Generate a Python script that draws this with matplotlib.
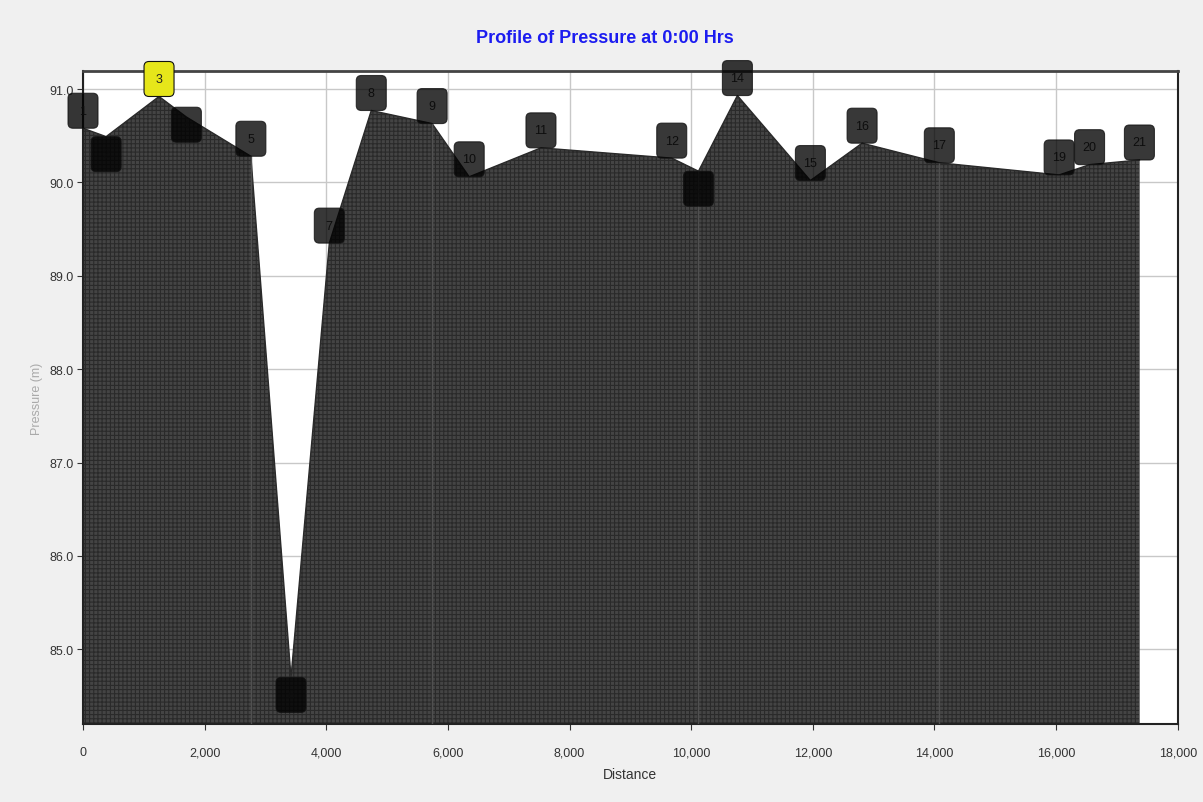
import matplotlib
matplotlib.use("Agg")
import matplotlib.pyplot as plt
from matplotlib.patches import FancyBboxPatch
from matplotlib.transforms import ScaledTranslation
from matplotlib.ticker import FuncFormatter

# ---- data ----
node_labels = ['1', '2', '3', '4', '5', '6', '7', '8', '9', '10', '11', '12', '13',
               '14', '15', '16', '17', '19', '20', '21']
distance = [0, 380, 1250, 1700, 2760, 3420, 4050, 4740, 5740, 6350, 7530, 9680,
            10120, 10760, 11960, 12810, 14080, 16050, 16550, 17370]
pressure = [90.58, 90.49, 90.92, 90.70, 90.28, 84.70, 89.35, 90.77, 90.63, 90.06,
            90.37, 90.26, 90.12, 90.93, 90.02, 90.42, 90.21, 90.08, 90.19, 90.24]
x_ticks = [0, 2000, 4000, 6000, 8000, 10000, 12000, 14000, 16000, 18000]
y_ticks = [85.0, 86.0, 87.0, 88.0, 89.0, 90.0, 91.0]
seam_nodes = ['5', '9', '13', '17']
highlight_node = '3'

# ---- style ----
label_place = {'2': 'below', '6': 'below', '13': 'below', '4': 'center'}
plt.rcParams['font.family'] = ['Liberation Sans Narrow', 'Liberation Sans', 'DejaVu Sans']
plt.rcParams['hatch.linewidth'] = 0.8

fig = plt.figure(figsize=(12.03, 8.03), dpi=100, facecolor='#f0f0f0')
ax = fig.add_axes([0.069, 0.097, 0.910, 0.813])
ax.set_facecolor('white')

ax.set_xlim(0, 18000)
ax.set_ylim(84.2, 91.19)

ax.set_xticks(x_ticks)
ax.set_yticks(y_ticks)
ax.xaxis.set_major_formatter(FuncFormatter(lambda v, p: f"{int(v):,}"))
ax.yaxis.set_major_formatter(FuncFormatter(lambda v, p: f"{v:.1f}"))
ax.tick_params(axis='both', labelsize=9, colors='#333333', length=4, width=0.8,
               direction='out')
ax.tick_params(axis='x', pad=12)
ax.tick_params(axis='y', pad=3)
ax.grid(True, color='#c8c8c8', linewidth=1.0, zorder=0)
ax.set_axisbelow(True)

for side, sp in ax.spines.items():
    sp.set_color('#222222')
    sp.set_linewidth(1.5)
ax.spines['top'].set_linewidth(2.0)
ax.spines['top'].set_color('#444444')

# filled profile
base = 84.2
ax.fill_between(distance, pressure, base, facecolor='#444444', edgecolor='#2a2a2a',
                hatch='++++', linewidth=0, zorder=2)
ax.plot(distance, pressure, color='#2a2a2a', linewidth=1.0, zorder=3)

# faint seams at pipe boundaries
for lab in seam_nodes:
    i = node_labels.index(lab)
    ax.plot([distance[i], distance[i]], [base, pressure[i]], color='#505050',
            linewidth=1.0, zorder=3)

# node label boxes
bw, bh = 0.30, 0.35  # inches
for lab, d, p in zip(node_labels, distance, pressure):
    place = label_place.get(lab, 'above')
    if place == 'above':
        y0 = 0.0
    elif place == 'below':
        y0 = -bh
    else:
        y0 = -bh * 0.72
    trans = fig.dpi_scale_trans + ScaledTranslation(d, p, ax.transData)
    if lab == highlight_node:
        fc, alpha, tc = '#e6e61a', 1.0, '#222222'
    else:
        fc, alpha, tc = '#000000', 0.78, '#0d0d0d'
    box = FancyBboxPatch((-bw / 2, y0), bw, bh,
                         boxstyle='round,pad=0,rounding_size=0.05',
                         transform=trans, facecolor=fc, edgecolor='#111111',
                         linewidth=0.8, alpha=alpha, zorder=5, clip_on=False)
    ax.add_patch(box)
    ax.text(0, y0 + bh / 2, lab, transform=trans, ha='center', va='center',
            fontsize=9, color=tc, zorder=6, clip_on=False)

fig.text(0.503, 0.952, 'Profile of Pressure at 0:00 Hrs', color='#1c1cf0',
         fontsize=13, fontweight='bold', ha='center', va='center')
ax.set_xlabel('Distance', fontsize=10, color='#333333', labelpad=6)
ax.set_ylabel('Pressure (m)', fontsize=9, color='#aaaaaa', labelpad=4)

fig.savefig('out.png', dpi=100, facecolor=fig.get_facecolor())
